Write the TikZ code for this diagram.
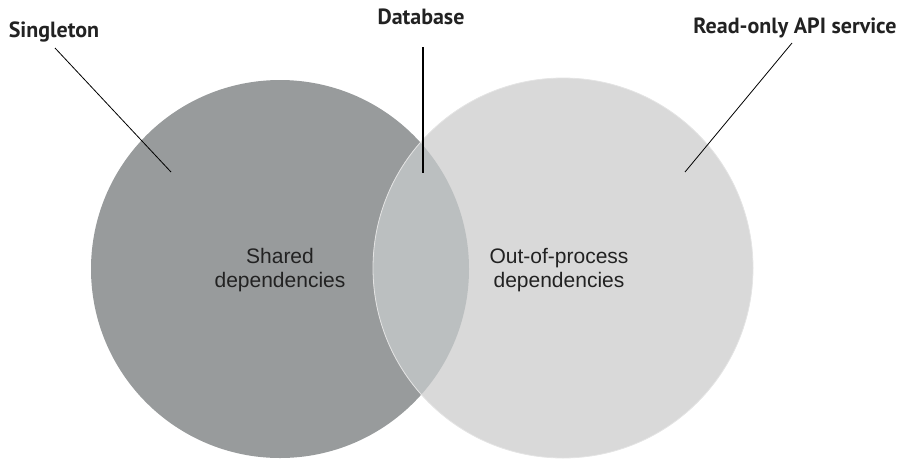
\documentclass[tikz,border=0pt]{standalone}
\usepackage{fontspec}
\setmainfont{Liberation Sans}
\newfontfamily\labelfont{PT Sans}
\definecolor{leftgrey}{HTML}{989B9C}
\definecolor{rightgrey}{HTML}{D9D9D9}
\definecolor{overgrey}{HTML}{BBBFC0}
\definecolor{edgegrey}{HTML}{E4E4E4}
\definecolor{textgrey}{HTML}{222222}
\begin{document}
\begin{tikzpicture}[x=1pt,y=-1pt,
  bodytext/.style={font=\fontsize{21}{24}\selectfont, text=textgrey, align=center, inner sep=0pt},
  labeltext/.style={font=\labelfont\bfseries\fontsize{22}{24}\selectfont, text=textgrey, inner sep=0pt, anchor=base},
  leader/.style={draw=black, line width=0.8pt},
]
\useasboundingbox (0,0) rectangle (899,459);
% circles
\fill[leftgrey] (280,269) circle[radius=189];
\fill[rightgrey] (563,268) circle[radius=190];
\begin{scope}
  \clip (280,269) circle[radius=189];
  \fill[overgrey] (563,268) circle[radius=190];
\end{scope}
\draw[edgegrey, line width=0.8pt] (563,268) circle[radius=190];
% texts
\node[bodytext] (shared) at (280,270) {Shared\\dependencies};
\node[bodytext] (outproc) at (559,270) {Out-of-process\\dependencies};
% labels
\node[labeltext] (singleton) at (54,37) {Singleton};
\node[labeltext] (database) at (421,24) {Database};
\node[labeltext] (readonly) at (795,33) {Read-only API service};
% leaders
\coordinate (sEnd) at (171,172);
\coordinate (dEnd) at (423,173);
\coordinate (rEnd) at (685,172);
\draw[leader] (55,48) -- (sEnd);
\draw[leader, line width=1.6pt] (423,47) -- (dEnd);
\draw[leader] (792,43) -- (rEnd);
\end{tikzpicture}
\end{document}
